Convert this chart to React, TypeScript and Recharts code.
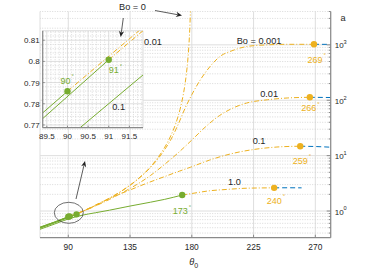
import React from 'react';
import { ComposedChart, LineChart, Line, XAxis, YAxis, CartesianGrid, ReferenceLine, ReferenceDot } from 'recharts';

const GREEN = '#77AC30';
const ORANGE = '#EDB120';
const BLUE = '#0072BD';
const INK = '#262626';
const AXIS = '#8a8a8a';
const GRID = '#dedede';
const MINOR = '#cfcfcf';
const FONT = '"Liberation Sans", Arial, Helvetica, sans-serif';
const DASHDOT = '5 2 1 2';
const DASHED = '5 3';

// ---------- main plot: a against theta0, segments for each Bond number ----------
// Bo = 0
const bo0StableTheta = [69.4, 80, 90];
const bo0StableA = [0.51, 0.632, 0.786];
const bo0MetaTheta = [90, 100, 110, 120, 130, 140, 150, 155, 160, 165, 168, 170, 172, 174, 175, 176, 177, 178, 178.5, 179];
const bo0MetaA = [0.786, 0.98, 1.27, 1.7, 2.4, 3.66, 6.3, 9.0, 13.8, 23.7, 36, 51, 78, 135, 191, 292, 503, 1090, 1880, 4090];

// Bo = 0.001
const bo001StableTheta = [69.4, 80, 90];
const bo001StableA = [0.51, 0.632, 0.786];
const bo001MetaTheta = [90, 100, 110, 120, 130, 140, 150, 160, 165, 170, 175, 180, 186, 193, 200, 210, 220, 235, 250, 269];
const bo001MetaA = [0.786, 0.977, 1.26, 1.7, 2.4, 3.63, 6.17, 12.6, 20, 36.3, 70.8, 126, 229, 398, 603, 794, 933, 1000, 1023, 1023];
const bo001UnstTheta = [269, 281.2];
const bo001UnstA = [1023, 1020];

// Bo = 0.01
const bo01StableTheta = [69.4, 80, 91];
const bo01StableA = [0.5, 0.625, 0.801];
const bo01MetaTheta = [91, 100, 110, 120, 130, 140, 150, 160, 170, 180, 190, 200, 210, 220, 235, 250, 266];
const bo01MetaA = [0.801, 0.97, 1.24, 1.62, 2.19, 3.02, 4.4, 6.9, 11.2, 19.1, 33.1, 52.5, 72.4, 89.1, 102, 110, 113];
const bo01UnstTheta = [266, 281.2];
const bo01UnstA = [113, 112];

// Bo = 0.1
const bo1StableTheta = [69.4, 80, 90, 96];
const bo1StableA = [0.49, 0.61, 0.76, 0.871];
const bo1MetaTheta = [96, 105, 115, 123, 135, 147, 160, 171, 179, 193, 208, 225, 242, 259];
const bo1MetaA = [0.871, 1.12, 1.48, 1.82, 2.4, 3.16, 4.17, 5.25, 6.17, 8.32, 10.7, 12.9, 14.3, 14.8];
const bo1UnstTheta = [259, 270, 281.2];
const bo1UnstA = [14.8, 14.6, 14.2];

// Bo = 1.0
const bo10StableTheta = [69.4, 80, 90, 100, 110, 120, 135, 150, 160, 173];
const bo10StableA = [0.468, 0.582, 0.718, 0.839, 0.933, 1.035, 1.23, 1.445, 1.62, 1.945];
const bo10MetaTheta = [173, 180, 193, 205, 218, 230, 240];
const bo10MetaA = [1.945, 2.07, 2.32, 2.45, 2.57, 2.61, 2.62];
const bo10UnstTheta = [240, 250, 260];
const bo10UnstA = [2.62, 2.63, 2.62];

// transition points
const greenMarkTheta = [90, 91, 96, 173];
const greenMarkA = [0.786, 0.801, 0.871, 1.945];
const orangeMarkTheta = [240, 259, 266, 269];
const orangeMarkA = [2.62, 14.8, 113, 1023];

// curve labels
const boLabelText = ['Bo = 0.001', '0.01', '0.1', '1.0'];
const boLabelTheta = [229, 236.3, 229, 211.1];
const boLabelA = [1172, 129, 18.3, 3.38];

// axes
const xTicks = [90, 135, 180, 225, 270];
const yMajor = [1, 10, 100, 1000];
const yMinor = [0.4, 0.5, 0.6, 0.7, 0.8, 0.9, 2, 3, 4, 5, 6, 7, 8, 9, 20, 30, 40, 50, 60, 70, 80, 90, 200, 300, 400, 500, 600, 700, 800, 900, 2000, 3000, 4000];

// ---------- inset: zoom near theta0 = 90 ----------
const inBo0StableTheta = [89.4, 90];
const inBo0StableA = [0.7757, 0.7859];
const inBo0MetaTheta = [90, 91.83];
const inBo0MetaA = [0.7859, 0.8161];
const inBo01StableTheta = [89.4, 91];
const inBo01StableA = [0.773, 0.8008];
const inBo01MetaTheta = [91, 91.83];
const inBo01MetaA = [0.8008, 0.8145];
const inBo1StableTheta = [90.3, 91.83];
const inBo1StableA = [0.7686, 0.7936];
const inMarkTheta = [90, 91];
const inMarkA = [0.7859, 0.8008];
const inXTicks = [89.5, 90, 90.5, 91, 91.5];
const inYTicks = [0.77, 0.78, 0.79, 0.8, 0.81];
const inXMinor = [89.6, 89.7, 89.8, 89.9, 90.1, 90.2, 90.3, 90.4, 90.6, 90.7, 90.8, 90.9, 91.1, 91.2, 91.3, 91.4, 91.6, 91.7, 91.8];
const inYMinor = [0.772, 0.774, 0.776, 0.778, 0.782, 0.784, 0.786, 0.788, 0.792, 0.794, 0.796, 0.798, 0.802, 0.804, 0.806, 0.808, 0.812, 0.814];

const zip = (xs: number[], ys: number[]) => xs.map((x, i) => ({ x, y: ys[i] }));

const seg = (key: string, xs: number[], ys: number[], color: string, dash?: string) => (
  <Line
    key={key}
    data={zip(xs, ys)}
    dataKey="y"
    type="monotone"
    stroke={color}
    strokeWidth={1}
    strokeDasharray={dash}
    dot={false}
    activeDot={false}
    isAnimationActive={false}
  />
);

const marks = (key: string, xs: number[], ys: number[], color: string) => (
  <Line
    key={key}
    data={zip(xs, ys)}
    dataKey="y"
    stroke="none"
    dot={{ r: 3.2, fill: color, stroke: color, strokeWidth: 0 }}
    activeDot={false}
    isAnimationActive={false}
  />
);

const DegLabel = (cx: number, cy: number, dx: number, dy: number, n: number, color: string) => (
  <g>
    <text x={cx + dx} y={cy + dy} textAnchor="middle" dominantBaseline="central" fontSize={9} fill={color} fontFamily={FONT}>
      {n}
    </text>
    <text x={cx + dx + String(n).length * 2.5 + 1} y={cy + dy - 2.5} fontSize={6} fill={color} fontFamily={FONT}>
      °
    </text>
  </g>
);

const XTick = (p: any) => (
  <g>
    <line x1={p.x} x2={p.x} y1={p.y} y2={p.y - 3} stroke={AXIS} />
    <text x={p.x} y={p.y + 12} textAnchor="middle" fontSize={8.4} fill={INK} fontFamily={FONT}>
      {p.payload.value}
    </text>
  </g>
);

const YTick = (p: any) => {
  const v = p.payload.value;
  const k = Math.round(Math.log10(v));
  const major = Math.abs(Math.log10(v) - k) < 1e-6;
  return (
    <g>
      <line x1={p.x - (major ? 4 : 2)} x2={p.x} y1={p.y} y2={p.y} stroke={AXIS} />
      {major && (
        <text x={p.x + 4} y={p.y + 3.5} fontSize={8} fill={INK} fontFamily={FONT}>
          10
          <tspan dy={-4.2} fontSize={5.6}>
            {k}
          </tspan>
        </text>
      )}
    </g>
  );
};

const InXTick = (p: any) => (
  <g>
    <line x1={p.x} x2={p.x} y1={p.y} y2={p.y - 2} stroke={AXIS} />
    <text x={p.x} y={p.y + 11.5} textAnchor="middle" fontSize={8} fill={INK} fontFamily={FONT}>
      {p.payload.value}
    </text>
  </g>
);

const InYTick = (p: any) => (
  <g>
    <line x1={p.x} x2={p.x + 2} y1={p.y} y2={p.y} stroke={AXIS} />
    <text x={p.x - 3} y={p.y + 3} textAnchor="end" fontSize={8} fill={INK} fontFamily={FONT}>
      {p.payload.value}
    </text>
  </g>
);

const arrow = (x1: number, y1: number, x2: number, y2: number) => {
  const len = Math.hypot(x2 - x1, y2 - y1);
  const ux = (x2 - x1) / len;
  const uy = (y2 - y1) / len;
  const L = 6;
  const W = 2.6;
  const bx = x2 - ux * L;
  const by = y2 - uy * L;
  const nx = x2 - ux * L * 0.7;
  const ny = y2 - uy * L * 0.7;
  const pts = `${x2},${y2} ${bx - uy * W},${by + ux * W} ${nx},${ny} ${bx + uy * W},${by - ux * W}`;
  return (
    <g>
      <line x1={x1} y1={y1} x2={nx} y2={ny} stroke="#333" strokeWidth={0.8} />
      <polygon points={pts} fill="#222" />
    </g>
  );
};

export default function App() {
  const greenDegs = [0, 0, 0, 1];
  return (
    <div style={{ position: 'absolute', left: 0, top: 0, width: 374, height: 280, background: '#fff', fontFamily: FONT }}>
      <div style={{ position: 'absolute', left: 0, top: 0 }}>
        <ComposedChart width={374} height={280} margin={{ top: 11.5, right: 7.3, bottom: 12.3, left: 40 }}>
          <CartesianGrid horizontal={false} stroke={GRID} />
          {yMinor.map((v) => (
            <ReferenceLine key={'ym' + v} y={v} stroke={MINOR} strokeDasharray="1 1.5" strokeWidth={0.8} />
          ))}
          {yMajor.map((v) => (
            <ReferenceLine key={'yM' + v} y={v} stroke={GRID} />
          ))}
          <XAxis
            type="number"
            dataKey="x"
            domain={[69.4, 281.2]}
            ticks={xTicks}
            interval={0}
            allowDataOverflow
            height={30}
            tickSize={0}
            tickMargin={0}
            tickLine={false}
            axisLine={{ stroke: AXIS, strokeWidth: 1.2 }}
            tick={XTick}
          />
          <YAxis
            orientation="right"
            scale="log"
            type="number"
            domain={[0.33, 4000]}
            ticks={[...yMajor, ...yMinor]}
            interval={0}
            allowDataOverflow
            width={36}
            tickSize={0}
            tickMargin={0}
            tickLine={false}
            axisLine={{ stroke: AXIS, strokeWidth: 1.2 }}
            tick={YTick}
          />
          {seg('b0s', bo0StableTheta, bo0StableA, GREEN)}
          {seg('b0m', bo0MetaTheta, bo0MetaA, ORANGE, DASHDOT)}
          {seg('b001s', bo001StableTheta, bo001StableA, GREEN)}
          {seg('b001m', bo001MetaTheta, bo001MetaA, ORANGE, DASHDOT)}
          {seg('b001u', bo001UnstTheta, bo001UnstA, BLUE, DASHED)}
          {seg('b01s', bo01StableTheta, bo01StableA, GREEN)}
          {seg('b01m', bo01MetaTheta, bo01MetaA, ORANGE, DASHDOT)}
          {seg('b01u', bo01UnstTheta, bo01UnstA, BLUE, DASHED)}
          {seg('b1s', bo1StableTheta, bo1StableA, GREEN)}
          {seg('b1m', bo1MetaTheta, bo1MetaA, ORANGE, DASHDOT)}
          {seg('b1u', bo1UnstTheta, bo1UnstA, BLUE, DASHED)}
          {seg('b10s', bo10StableTheta, bo10StableA, GREEN)}
          {seg('b10m', bo10MetaTheta, bo10MetaA, ORANGE, DASHDOT)}
          {seg('b10u', bo10UnstTheta, bo10UnstA, BLUE, DASHED)}
          {marks('gm', greenMarkTheta, greenMarkA, GREEN)}
          {marks('om', orangeMarkTheta, orangeMarkA, ORANGE)}
          {boLabelText.map((t, i) => (
            <ReferenceDot
              key={'bl' + i}
              x={boLabelTheta[i]}
              y={boLabelA[i]}
              r={0}
              ifOverflow="visible"
              shape={(p: any) => (
                <text x={p.cx} y={p.cy} textAnchor="middle" dominantBaseline="central" fontSize={9.2} fill={INK} fontFamily={FONT}>
                  {t}
                </text>
              )}
            />
          ))}
          {orangeMarkTheta.map((t, i) => {
            const off = [[0, 13], [0, 14.5], [-1, 11], [1, 15.5]][i];
            return (
              <ReferenceDot
                key={'od' + i}
                x={t}
                y={orangeMarkA[i]}
                r={0}
                ifOverflow="visible"
                shape={(p: any) => DegLabel(p.cx, p.cy, off[0], off[1], t, ORANGE)}
              />
            );
          })}
          {greenMarkTheta
            .filter((_, i) => greenDegs[i])
            .map((t) => (
              <ReferenceDot
                key={'gd' + t}
                x={t}
                y={greenMarkA[greenMarkTheta.indexOf(t)]}
                r={0}
                ifOverflow="visible"
                shape={(p: any) => DegLabel(p.cx, p.cy, -2, 16, t, GREEN)}
              />
            ))}
        </ComposedChart>
      </div>

      <div style={{ position: 'absolute', left: 0, top: 0 }}>
        <LineChart width={160} height={150} margin={{ top: 30.7, right: 17, bottom: 2.3, left: 12.7 }}>
          <CartesianGrid fill="#fff" fillOpacity={1} stroke={GRID} />
          {inXMinor.map((v) => (
            <ReferenceLine key={'ixm' + v} x={v} stroke={MINOR} strokeDasharray="1 1.5" strokeWidth={0.8} />
          ))}
          {inYMinor.map((v) => (
            <ReferenceLine key={'iym' + v} y={v} stroke={MINOR} strokeDasharray="1 1.5" strokeWidth={0.8} />
          ))}
          <XAxis
            type="number"
            dataKey="x"
            domain={[89.4, 91.83]}
            ticks={inXTicks}
            interval={0}
            allowDataOverflow
            height={20}
            tickSize={0}
            tickMargin={0}
            tickLine={false}
            axisLine={{ stroke: AXIS, strokeWidth: 1.2 }}
            tick={InXTick}
          />
          <YAxis
            type="number"
            domain={[0.7687, 0.8145]}
            ticks={inYTicks}
            interval={0}
            allowDataOverflow
            width={30}
            tickSize={0}
            tickMargin={0}
            tickLine={false}
            axisLine={{ stroke: AXIS, strokeWidth: 1.2 }}
            tick={InYTick}
          />
          {seg('i0s', inBo0StableTheta, inBo0StableA, GREEN)}
          {seg('i0m', inBo0MetaTheta, inBo0MetaA, ORANGE, DASHDOT)}
          {seg('i01s', inBo01StableTheta, inBo01StableA, GREEN)}
          {seg('i01m', inBo01MetaTheta, inBo01MetaA, ORANGE, DASHDOT)}
          {seg('i1s', inBo1StableTheta, inBo1StableA, GREEN)}
          {marks('im', inMarkTheta, inMarkA, GREEN)}
          <ReferenceDot
            x={inMarkTheta[0]}
            y={inMarkA[0]}
            r={0}
            ifOverflow="visible"
            shape={(p: any) => DegLabel(p.cx, p.cy, -2, -10.3, inMarkTheta[0], GREEN)}
          />
          <ReferenceDot
            x={inMarkTheta[1]}
            y={inMarkA[1]}
            r={0}
            ifOverflow="visible"
            shape={(p: any) => DegLabel(p.cx, p.cy, 5, 10.3, inMarkTheta[1], GREEN)}
          />
          <ReferenceDot
            x={91.24}
            y={0.7786}
            r={0}
            ifOverflow="visible"
            shape={(p: any) => (
              <text x={p.cx} y={p.cy} textAnchor="middle" dominantBaseline="central" fontSize={9.2} fill={INK} fontFamily={FONT}>
                0.1
              </text>
            )}
          />
        </LineChart>
      </div>

      <svg width={374} height={280} style={{ position: 'absolute', left: 0, top: 0, pointerEvents: 'none' }}>
        <text x={132.5} y={7.3} textAnchor="middle" dominantBaseline="central" fontSize={9.2} fill={INK} fontFamily={FONT}>
          Bo = 0
        </text>
        <text x={144} y={42} dominantBaseline="central" fontSize={9.2} fill={INK} fontFamily={FONT}>
          0.01
        </text>
        {arrow(123.3, 18, 120.7, 37)}
        {arrow(155, 10.5, 182, 15.5)}
        {arrow(76, 199, 85, 161)}
        <ellipse cx={68.8} cy={212.8} rx={14.5} ry={10.5} fill="none" stroke="#333" strokeWidth={0.7} />
        <text x={343} y={17.7} textAnchor="middle" dominantBaseline="central" fontSize={9.2} fill={INK} fontFamily={FONT}>
          a
        </text>
        <text x={189.3} y={264.5} fontSize={9.2} fill={INK} fontFamily={FONT} fontStyle="italic">
          θ
          <tspan fontStyle="normal" fontSize={7} dy={3}>
            0
          </tspan>
        </text>
      </svg>
    </div>
  );
}
